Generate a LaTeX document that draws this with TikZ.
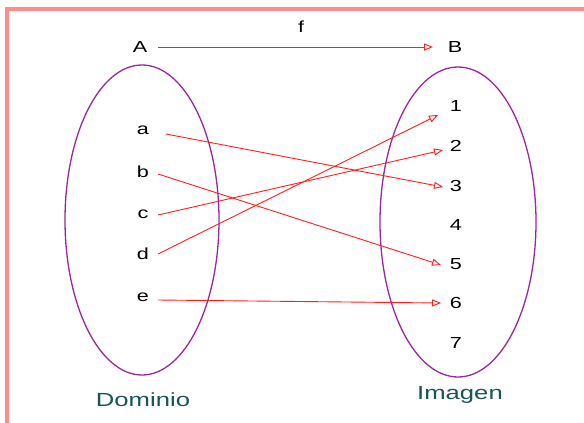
\documentclass[tikz,border=0pt]{standalone}
\usepackage{fontspec}
\setmainfont{Liberation Sans}
\usetikzlibrary{arrows.meta}
\definecolor{frame}{RGB}{255,140,140}
\definecolor{ell}{RGB}{150,40,160}
\definecolor{lbl}{RGB}{25,85,85}
\definecolor{arr}{RGB}{255,30,30}
\newcommand{\wide}[1]{\scalebox{1.35}[1]{#1}}
\tikzset{
  elem/.style={inner sep=0pt,font=\fontsize{16}{16}\selectfont},
  setlbl/.style={inner sep=0pt,text=lbl,font=\fontsize{19}{19}\selectfont},
  maparrow/.style={draw=arr,line width=0.9pt,-{Triangle[open,length=9pt,width=7pt]}},
  setell/.style={draw=ell,line width=1.3pt}
}
\begin{document}
\begin{tikzpicture}[x=1pt,y=-1pt]
\useasboundingbox (0,0) rectangle (584,423);
\draw[frame,line width=4pt] (7,423) -- (7,9) -- (584,9);
\draw[setell] (142,220) ellipse [x radius=77,y radius=155];
\draw[setell] (458,222) ellipse [x radius=78,y radius=155];
\node[elem] (A) at (140,47) {\wide{A}};
\node[elem] (B) at (455,47) {\wide{B}};
\node[elem] (f) at (301,27) {\wide{f}};
\node[elem] (a) at (143,130) {\wide{a}};
\node[elem] (b) at (143,172) {\wide{b}};
\node[elem] (c) at (143,214) {\wide{c}};
\node[elem] (d) at (143,254) {\wide{d}};
\node[elem] (e) at (143,297) {\wide{e}};
\node[elem] (n1) at (456,106) {\wide{1}};
\node[elem] (n2) at (456,146) {\wide{2}};
\node[elem] (n3) at (456,186) {\wide{3}};
\node[elem] (n4) at (456,225) {\wide{4}};
\node[elem] (n5) at (456,264) {\wide{5}};
\node[elem] (n6) at (456,303) {\wide{6}};
\node[elem] (n7) at (456,343) {\wide{7}};
\node[setlbl] (dom) at (143,400) {\wide{Dominio}};
\node[setlbl] (img) at (460,395) {\wide{Imagen}};
\draw[maparrow] ([shift={(18,0)}]A.center) -- ([shift={(-22,0)}]B.center);
\draw[maparrow] ([shift={(23,4)}]a.center) -- ([shift={(-13,1)}]n3.center);
\draw[maparrow] ([shift={(15,2)}]b.center) -- ([shift={(-15,1)}]n5.center);
\draw[maparrow] ([shift={(15,1)}]c.center) -- ([shift={(-13,4)}]n2.center);
\draw[maparrow] ([shift={(15,0)}]d.center) -- ([shift={(-18,9)}]n1.center);
\draw[maparrow] ([shift={(15,3)}]e.center) -- ([shift={(-15,0)}]n6.center);
\end{tikzpicture}
\end{document}
